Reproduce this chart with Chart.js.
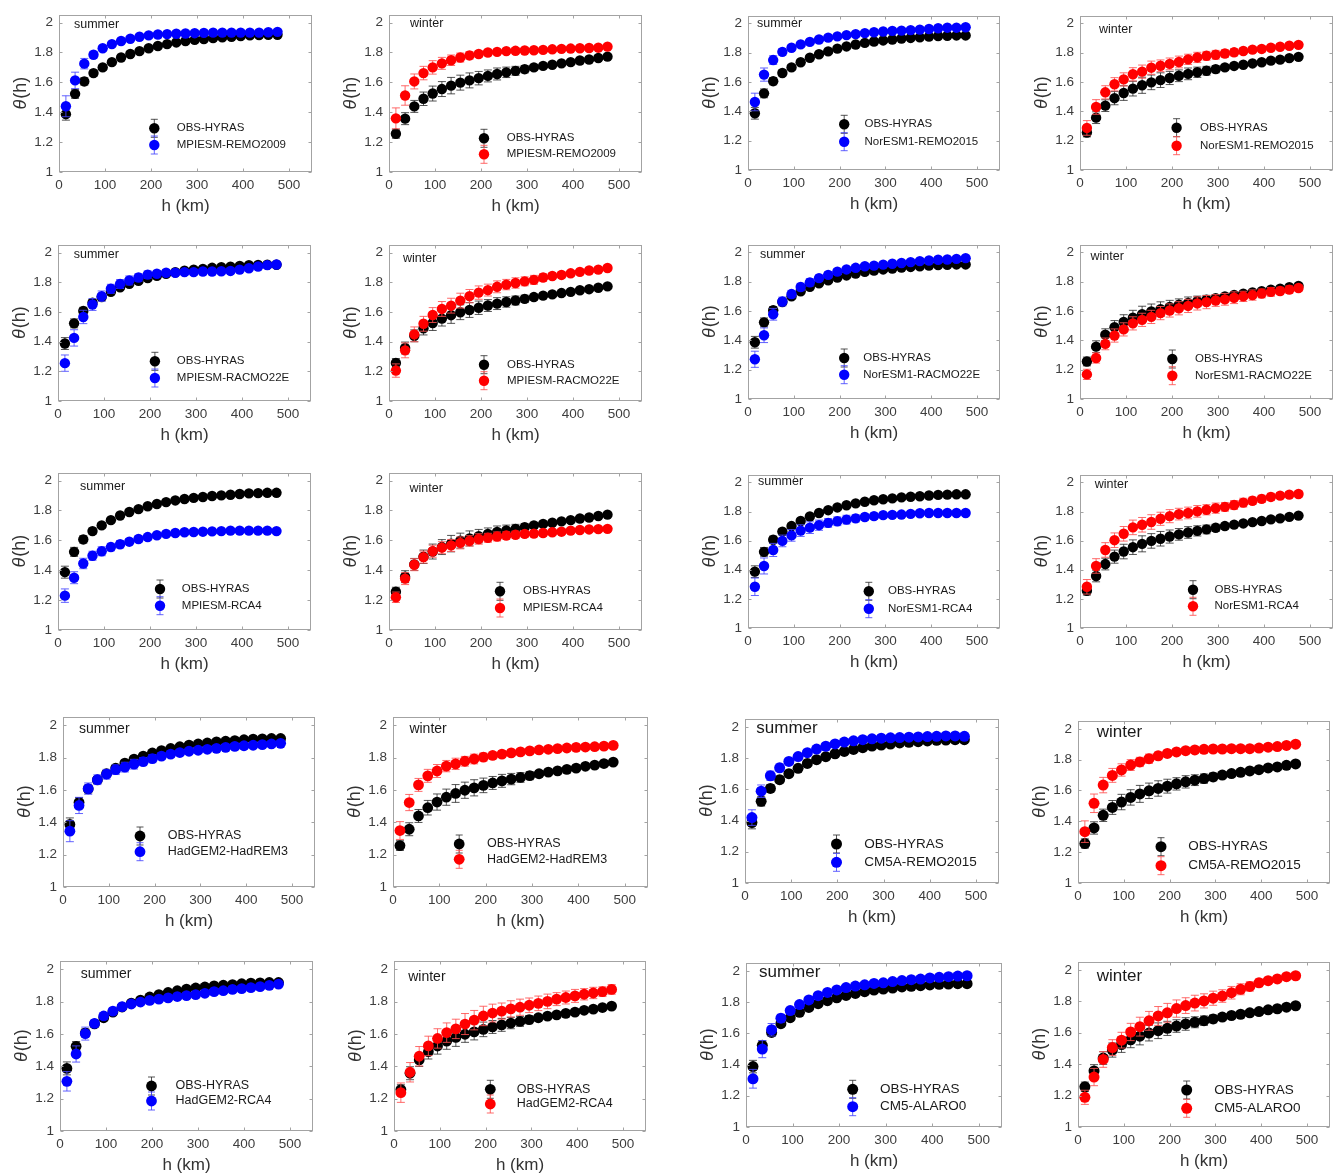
<!DOCTYPE html>
<html>
<head>
<meta charset="utf-8">
<script src="https://cdn.jsdelivr.net/npm/chart.js@4.4.1/dist/chart.umd.min.js"></script>
<style>
html, body { margin: 0; padding: 0; background: #fff; }
#fig { position: relative; width: 1335px; height: 1175px; overflow: hidden; }
#fig canvas { position: absolute; }
</style>
</head>
<body>
<div id="fig"></div>
<script>
// distance bins (km) and axis ticks
const hKm = [15, 35, 55, 75, 95, 115, 135, 155, 175, 195, 215, 235, 255, 275, 295, 315, 335, 355, 375, 395, 415, 435, 455, 475];
const xTicks = [0, 100, 200, 300, 400, 500];
const xTickLabels = ['0', '100', '200', '300', '400', '500'];
const yTicks = [1, 1.2, 1.4, 1.6, 1.8, 2];
const yTickLabels = ['1', '1.2', '1.4', '1.6', '1.8', '2'];

// observations (same in every panel of a season)
const obsSummer = [1.387,1.523,1.606,1.662,1.700,1.735,1.766,1.790,1.809,1.828,1.843,1.856,1.867,1.877,1.884,1.890,1.897,1.901,1.905,1.910,1.914,1.916,1.918,1.918];
const obsSummerErr = [0.04,0.03,0.025,0.02,0.018,0.016,0.015,0.014,0.013,0.012,0.012,0.011,0.011,0.011,0.01,0.01,0.01,0.01,0.01,0.01,0.01,0.01,0.01,0.01];
const obsWinter = [1.256,1.357,1.439,1.490,1.525,1.555,1.578,1.598,1.613,1.628,1.643,1.656,1.667,1.677,1.688,1.700,1.710,1.718,1.727,1.735,1.746,1.753,1.763,1.772];
const obsWinterErr = [0.03,0.04,0.04,0.045,0.05,0.05,0.055,0.05,0.05,0.045,0.04,0.04,0.035,0.03,0.025,0.02,0.016,0.015,0.013,0.012,0.012,0.011,0.011,0.011];

// models
const remo2009S = [1.440,1.613,1.725,1.785,1.828,1.856,1.877,1.892,1.905,1.914,1.920,1.923,1.925,1.927,1.929,1.931,1.933,1.933,1.933,1.933,1.933,1.933,1.935,1.938];
const remo2009SErr = [0.07,0.055,0.035,0.022,0.018,0.015,0.013,0.012,0.011,0.01,0.01,0.01,0.01,0.01,0.01,0.01,0.01,0.01,0.01,0.01,0.01,0.01,0.01,0.01];
const remo2009W = [1.359,1.512,1.606,1.662,1.700,1.727,1.748,1.766,1.780,1.790,1.800,1.804,1.809,1.811,1.813,1.815,1.817,1.821,1.824,1.826,1.828,1.830,1.832,1.839];
const remo2009WErr = [0.07,0.065,0.05,0.045,0.045,0.04,0.035,0.03,0.025,0.02,0.018,0.016,0.015,0.014,0.013,0.012,0.012,0.011,0.011,0.01,0.01,0.01,0.01,0.01];
const norRemoS = [1.464,1.651,1.750,1.806,1.834,1.857,1.874,1.890,1.903,1.912,1.920,1.927,1.934,1.940,1.945,1.949,1.951,1.954,1.958,1.962,1.967,1.971,1.971,1.974];
const norRemoSErr = [0.06,0.045,0.03,0.022,0.018,0.016,0.015,0.014,0.013,0.012,0.012,0.012,0.011,0.011,0.011,0.011,0.011,0.011,0.011,0.011,0.011,0.011,0.011,0.011];
const norRemoW = [1.287,1.430,1.530,1.585,1.618,1.653,1.671,1.698,1.711,1.724,1.737,1.755,1.768,1.779,1.786,1.795,1.803,1.812,1.821,1.826,1.834,1.841,1.848,1.854];
const norRemoWErr = [0.05,0.05,0.045,0.045,0.045,0.045,0.045,0.045,0.04,0.04,0.04,0.035,0.035,0.03,0.03,0.025,0.025,0.02,0.02,0.02,0.018,0.018,0.016,0.016];
const mpiRacmoS = [1.255,1.425,1.566,1.650,1.706,1.756,1.788,1.812,1.832,1.851,1.857,1.864,1.864,1.868,1.868,1.872,1.872,1.874,1.876,1.885,1.894,1.906,1.915,1.919];
const mpiRacmoSErr = [0.055,0.055,0.045,0.04,0.035,0.03,0.03,0.03,0.025,0.025,0.02,0.02,0.018,0.018,0.018,0.018,0.018,0.018,0.018,0.016,0.016,0.016,0.015,0.015];
const mpiRacmoW = [1.205,1.341,1.449,1.520,1.579,1.620,1.642,1.676,1.706,1.730,1.747,1.769,1.784,1.795,1.806,1.816,1.832,1.842,1.849,1.860,1.870,1.879,1.885,1.896];
const mpiRacmoWErr = [0.045,0.05,0.05,0.05,0.05,0.05,0.05,0.05,0.045,0.045,0.04,0.04,0.035,0.035,0.03,0.03,0.025,0.02,0.02,0.018,0.016,0.015,0.015,0.015];
const norRacmoS = [1.271,1.435,1.578,1.665,1.716,1.764,1.796,1.825,1.847,1.869,1.884,1.895,1.906,1.910,1.917,1.923,1.928,1.934,1.941,1.945,1.950,1.952,1.956,1.961];
const norRacmoSErr = [0.055,0.05,0.04,0.03,0.025,0.025,0.025,0.02,0.02,0.018,0.016,0.015,0.015,0.015,0.014,0.014,0.014,0.014,0.013,0.013,0.013,0.013,0.013,0.013];
const norRacmoW = [1.168,1.280,1.376,1.433,1.475,1.516,1.540,1.560,1.586,1.604,1.619,1.635,1.652,1.661,1.672,1.680,1.691,1.700,1.709,1.720,1.731,1.737,1.746,1.757];
const norRacmoWErr = [0.035,0.035,0.04,0.045,0.045,0.045,0.045,0.045,0.045,0.045,0.045,0.045,0.045,0.045,0.04,0.04,0.04,0.035,0.035,0.03,0.03,0.025,0.025,0.02];
const mpiRcaS = [1.230,1.350,1.445,1.497,1.527,1.555,1.574,1.591,1.609,1.622,1.634,1.643,1.649,1.654,1.656,1.658,1.660,1.662,1.665,1.665,1.665,1.665,1.665,1.662];
const mpiRcaSErr = [0.045,0.04,0.035,0.03,0.03,0.025,0.025,0.02,0.02,0.018,0.016,0.015,0.014,0.013,0.012,0.012,0.012,0.012,0.012,0.012,0.012,0.012,0.012,0.012];
const mpiRcaW = [1.219,1.344,1.437,1.488,1.527,1.551,1.566,1.583,1.596,1.609,1.617,1.626,1.632,1.637,1.643,1.645,1.649,1.654,1.658,1.665,1.669,1.673,1.675,1.677];
const mpiRcaWErr = [0.035,0.04,0.04,0.04,0.04,0.04,0.04,0.04,0.035,0.035,0.03,0.03,0.025,0.025,0.022,0.02,0.02,0.018,0.018,0.016,0.016,0.015,0.015,0.015];
const norRcaS = [1.283,1.426,1.536,1.598,1.636,1.669,1.689,1.706,1.722,1.733,1.744,1.753,1.762,1.768,1.775,1.777,1.779,1.784,1.788,1.790,1.790,1.790,1.790,1.790];
const norRcaSErr = [0.06,0.055,0.045,0.04,0.04,0.04,0.04,0.035,0.03,0.03,0.03,0.025,0.02,0.02,0.018,0.016,0.015,0.015,0.015,0.014,0.014,0.014,0.014,0.014];
const norRcaW = [1.283,1.426,1.536,1.603,1.647,1.691,1.709,1.728,1.750,1.768,1.782,1.790,1.801,1.812,1.823,1.832,1.845,1.861,1.874,1.887,1.900,1.909,1.916,1.920];
const norRcaWErr = [0.05,0.05,0.05,0.05,0.05,0.05,0.05,0.05,0.045,0.045,0.04,0.04,0.04,0.035,0.035,0.03,0.03,0.03,0.025,0.025,0.025,0.02,0.02,0.02];
const hadRemS = [1.345,1.504,1.608,1.663,1.697,1.725,1.741,1.759,1.775,1.793,1.809,1.821,1.831,1.839,1.845,1.851,1.857,1.863,1.869,1.873,1.876,1.880,1.884,1.888];
const hadRemSErr = [0.065,0.05,0.035,0.03,0.03,0.03,0.03,0.03,0.025,0.025,0.02,0.02,0.018,0.018,0.016,0.016,0.015,0.015,0.015,0.014,0.014,0.014,0.014,0.014];
const hadRemW = [1.349,1.522,1.631,1.687,1.717,1.747,1.761,1.777,1.791,1.803,1.813,1.821,1.829,1.835,1.841,1.847,1.851,1.855,1.859,1.863,1.865,1.867,1.871,1.875];
const hadRemWErr = [0.055,0.05,0.04,0.04,0.04,0.035,0.035,0.03,0.03,0.025,0.022,0.02,0.018,0.018,0.016,0.016,0.015,0.015,0.014,0.014,0.014,0.013,0.013,0.013];
const cm5aRemoS = [1.419,1.588,1.687,1.738,1.779,1.810,1.835,1.858,1.876,1.891,1.903,1.911,1.918,1.924,1.928,1.930,1.932,1.934,1.936,1.938,1.940,1.942,1.942,1.940];
const cm5aRemoSErr = [0.05,0.04,0.03,0.025,0.02,0.018,0.016,0.015,0.014,0.014,0.013,0.013,0.013,0.013,0.013,0.013,0.013,0.013,0.013,0.013,0.013,0.013,0.013,0.013];
const cm5aRemoW = [1.333,1.517,1.635,1.698,1.733,1.765,1.785,1.806,1.825,1.840,1.850,1.858,1.863,1.867,1.869,1.869,1.871,1.871,1.871,1.875,1.881,1.885,1.892,1.900];
const cm5aRemoWErr = [0.07,0.06,0.05,0.045,0.04,0.035,0.03,0.03,0.025,0.02,0.018,0.016,0.015,0.015,0.014,0.014,0.013,0.013,0.013,0.013,0.013,0.013,0.013,0.013];
const hadRcaS = [1.307,1.476,1.602,1.665,1.711,1.741,1.769,1.785,1.797,1.807,1.815,1.823,1.831,1.837,1.843,1.851,1.861,1.867,1.875,1.880,1.886,1.892,1.900,1.908];
const hadRcaSErr = [0.06,0.05,0.04,0.02,0.02,0.02,0.018,0.016,0.015,0.015,0.014,0.014,0.014,0.014,0.014,0.014,0.014,0.014,0.014,0.014,0.014,0.014,0.014,0.014];
const hadRcaW = [1.237,1.363,1.462,1.526,1.572,1.608,1.631,1.661,1.685,1.711,1.729,1.741,1.755,1.765,1.777,1.789,1.801,1.815,1.825,1.835,1.845,1.853,1.861,1.875];
const hadRcaWErr = [0.06,0.06,0.06,0.06,0.06,0.06,0.06,0.065,0.06,0.06,0.055,0.05,0.05,0.05,0.045,0.045,0.045,0.04,0.04,0.04,0.035,0.035,0.03,0.03];
const alaroS = [1.309,1.499,1.623,1.697,1.746,1.784,1.814,1.841,1.862,1.878,1.893,1.903,1.911,1.920,1.924,1.932,1.938,1.944,1.948,1.955,1.959,1.963,1.967,1.969];
const alaroSErr = [0.06,0.055,0.04,0.025,0.02,0.018,0.016,0.015,0.014,0.014,0.013,0.013,0.013,0.013,0.013,0.013,0.013,0.013,0.013,0.013,0.013,0.013,0.013,0.013];
const alaroW = [1.189,1.318,1.430,1.506,1.553,1.605,1.639,1.676,1.707,1.727,1.754,1.773,1.789,1.803,1.820,1.834,1.855,1.877,1.895,1.918,1.932,1.943,1.957,1.963];
const alaroWErr = [0.045,0.055,0.05,0.05,0.05,0.055,0.06,0.06,0.06,0.06,0.055,0.05,0.05,0.045,0.045,0.04,0.04,0.035,0.03,0.025,0.02,0.018,0.016,0.016];

const BLUE = '#0000ff', RED = '#ff0000';
const FONT = '"Liberation Sans", Arial, sans-serif';

// layout: where each panel's axes box sits on the page (x of 0 and 500 km, y of theta 2 and 1),
// legend marker x / row y's / text x and the season label position; g = text size group
const panels = [
  {name: 'MPIESM-REMO2009', season: 'summer', vals: remo2009S, errs: remo2009SErr, x0: 58.7, x500: 288.7, y2: 16.7, y1: 171.7, leg: [154.3, 128.3, 145, 176.7], lab: [74, 25], g: 0},
  {name: 'MPIESM-REMO2009', season: 'winter', vals: remo2009W, errs: remo2009WErr, x0: 388.7, x500: 618.7, y2: 17, y1: 172, leg: [484, 138.3, 154.3, 506.7], lab: [410, 24], g: 0},
  {name: 'NorESM1-REMO2015', season: 'summer', vals: norRemoS, errs: norRemoSErr, x0: 748.2, x500: 977.2, y2: 18, y1: 170, leg: [844.2, 124.3, 141.7, 864.5], lab: [757, 24], g: 0},
  {name: 'NorESM1-REMO2015', season: 'winter', vals: norRemoW, errs: norRemoWErr, x0: 1079.7, x500: 1310, y2: 18, y1: 170, leg: [1176.6, 127.7, 145.7, 1200], lab: [1099, 29.3], g: 0},

  {name: 'MPIESM-RACMO22E', season: 'summer', vals: mpiRacmoS, errs: mpiRacmoSErr, x0: 57.7, x500: 287.5, y2: 246.3, y1: 400.7, leg: [154.9, 361.3, 378, 176.8], lab: [73.7, 254.7], g: 0},
  {name: 'MPIESM-RACMO22E', season: 'winter', vals: mpiRacmoW, errs: mpiRacmoWErr, x0: 388.9, x500: 618.7, y2: 246.3, y1: 400.7, leg: [484, 364.7, 380.7, 507], lab: [403, 259], g: 0},
  {name: 'NorESM1-RACMO22E', season: 'summer', vals: norRacmoS, errs: norRacmoSErr, x0: 748.2, x500: 977, y2: 246.3, y1: 398.7, leg: [844.2, 358, 374.7, 863.2], lab: [759.9, 254.7], g: 0},
  {name: 'NorESM1-RACMO22E', season: 'winter', vals: norRacmoW, errs: norRacmoWErr, x0: 1079.7, x500: 1310, y2: 246.3, y1: 398.7, leg: [1172.3, 359, 375.7, 1195], lab: [1090.5, 256.3], g: 0},

  {name: 'MPIESM-RCA4', season: 'summer', vals: mpiRcaS, errs: mpiRcaSErr, x0: 57.7, x500: 287.5, y2: 474.7, y1: 629.7, leg: [160, 589, 605.7, 181.8], lab: [80, 487], g: 0},
  {name: 'MPIESM-RCA4', season: 'winter', vals: mpiRcaW, errs: mpiRcaWErr, x0: 388.9, x500: 618.7, y2: 474.7, y1: 629.7, leg: [500, 591.3, 608, 523], lab: [409.5, 489], g: 0},
  {name: 'NorESM1-RCA4', season: 'summer', vals: norRcaS, errs: norRcaSErr, x0: 748.2, x500: 977, y2: 476.3, y1: 627.3, leg: [868.8, 591.3, 608.7, 888], lab: [758, 482], g: 0},
  {name: 'NorESM1-RCA4', season: 'winter', vals: norRcaW, errs: norRcaWErr, x0: 1079.7, x500: 1310, y2: 476.3, y1: 627.3, leg: [1193, 589.7, 606.3, 1214.5], lab: [1094.8, 484.7], g: 0},

  {name: 'HadGEM2-HadREM3', season: 'summer', vals: hadRemS, errs: hadRemSErr, x0: 62.7, x500: 292, y2: 719.3, y1: 886.7, leg: [140, 836, 851.7, 167.7], lab: [79, 729.3], g: 1},
  {name: 'HadGEM2-HadREM3', season: 'winter', vals: hadRemW, errs: hadRemWErr, x0: 392.9, x500: 624.9, y2: 719.3, y1: 886.7, leg: [459.2, 844, 859.3, 487], lab: [409.4, 729.3], g: 1},
  {name: 'CM5A-REMO2015', season: 'summer', vals: cm5aRemoS, errs: cm5aRemoSErr, x0: 745.4, x500: 976, y2: 721, y1: 882.7, leg: [836.5, 844, 862.3, 864.2], lab: [756.3, 728.3], g: 2},
  {name: 'CM5A-REMO2015', season: 'winter', vals: cm5aRemoW, errs: cm5aRemoWErr, x0: 1077.7, x500: 1306.7, y2: 723.3, y1: 883.3, leg: [1161, 846.7, 865.7, 1188.3], lab: [1096.7, 732.7], g: 2},

  {name: 'HadGEM2-RCA4', season: 'summer', vals: hadRcaS, errs: hadRcaSErr, x0: 59.8, x500: 289.6, y2: 963.3, y1: 1130.7, leg: [151.5, 1086, 1101, 175.5], lab: [80.8, 974.3], g: 1},
  {name: 'HadGEM2-RCA4', season: 'winter', vals: hadRcaW, errs: hadRcaWErr, x0: 393.5, x500: 622.9, y2: 963.3, y1: 1130.7, leg: [490.3, 1089.3, 1104, 516.8], lab: [408.2, 976.7], g: 1},
  {name: 'CM5-ALARO0', season: 'summer', vals: alaroS, errs: alaroSErr, x0: 746, x500: 979, y2: 965, y1: 1126.7, leg: [852.7, 1089.3, 1106.7, 880], lab: [759, 972.3], g: 2},
  {name: 'CM5-ALARO0', season: 'winter', vals: alaroW, errs: alaroWErr, x0: 1077.7, x500: 1306.7, y2: 964, y1: 1126.7, leg: [1186.7, 1090, 1108.3, 1214.3], lab: [1096.7, 976.7], g: 2}
];

// text and marker sizes per group
const groupStyle = [
  {season: 12.5, legend: 11.5, radius: 5.2},
  {season: 14, legend: 12.5, radius: 5.4},
  {season: 17, legend: 13.5, radius: 5.5}
];

const L = 62, T = 8, R = 6, B = 50; // room around the axes box inside each canvas
const X_MAX = 550, Y_MIN = 1, Y_MAX = 2.05;

function errColor(c) {
  if (c === BLUE) return 'rgba(70,70,255,0.85)';
  if (c === RED) return 'rgba(255,80,80,0.85)';
  return 'rgba(40,40,40,0.8)';
}

function drawErrBar(ctx, x, yTop, yBot, cap) {
  ctx.beginPath();
  ctx.moveTo(x, yTop); ctx.lineTo(x, yBot);
  ctx.moveTo(x - cap, yTop); ctx.lineTo(x + cap, yTop);
  ctx.moveTo(x - cap, yBot); ctx.lineTo(x + cap, yBot);
  ctx.stroke();
}

const decoPlugin = {
  id: 'deco',
  beforeDatasetDraw(chart, args) {
    // error bars of a series go right under its own markers
    const ds = chart.data.datasets[args.index];
    const xs = chart.scales.x, ys = chart.scales.y, ctx = chart.ctx;
    ctx.save();
    ctx.strokeStyle = errColor(ds.backgroundColor);
    ctx.lineWidth = 1;
    ds.data.forEach((pt, k) => {
      const x = xs.getPixelForValue(pt.x);
      drawErrBar(ctx, x, ys.getPixelForValue(pt.y + ds.err[k]), ys.getPixelForValue(pt.y - ds.err[k]), 4);
    });
    ctx.restore();
  },
  afterDraw(chart, args, opts) {
    const p = opts.panel, st = groupStyle[p.g];
    const ctx = chart.ctx, a = chart.chartArea;
    const xs = chart.scales.x, ys = chart.scales.y;
    ctx.save();
    // box and inward ticks
    ctx.strokeStyle = '#a3a3a3';
    ctx.lineWidth = 1;
    const l = Math.round(a.left) + 0.5, r = Math.round(a.right) - 0.5;
    const t = Math.round(a.top) + 0.5, b = Math.round(a.bottom) - 0.5;
    ctx.strokeRect(l, t, r - l, b - t);
    ctx.beginPath();
    xTicks.forEach(v => {
      const x = Math.round(xs.getPixelForValue(v)) + 0.5;
      ctx.moveTo(x, b); ctx.lineTo(x, b - 3);
      ctx.moveTo(x, t); ctx.lineTo(x, t + 3);
    });
    yTicks.forEach(v => {
      const y = Math.round(ys.getPixelForValue(v)) + 0.5;
      ctx.moveTo(l, y); ctx.lineTo(l + 3, y);
      ctx.moveTo(r, y); ctx.lineTo(r - 3, y);
    });
    ctx.stroke();

    // axis titles
    ctx.fillStyle = '#333';
    ctx.textAlign = 'center';
    ctx.textBaseline = 'middle';
    ctx.font = '17px ' + FONT;
    ctx.fillText('h (km)', (a.left + a.right) / 2, a.bottom + 34);

    ctx.save();
    ctx.translate(a.left - 38, (a.top + a.bottom) / 2);
    ctx.rotate(-Math.PI / 2);
    ctx.font = 'italic 18px ' + FONT;
    const w1 = ctx.measureText('θ').width;
    ctx.font = '18px ' + FONT;
    const w2 = ctx.measureText('(h)').width;
    ctx.textAlign = 'left';
    ctx.font = 'italic 18px ' + FONT;
    ctx.fillText('θ', -(w1 + w2) / 2, 0);
    ctx.font = '18px ' + FONT;
    ctx.fillText('(h)', -(w1 + w2) / 2 + w1 + 1, 0);
    ctx.restore();

    // season label and legend, page coordinates shifted into this canvas
    const ox = opts.left, oy = opts.top;
    ctx.fillStyle = '#1a1a1a';
    ctx.textAlign = 'left';
    ctx.font = st.season + 'px ' + FONT;
    ctx.fillText(p.season, p.lab[0] - ox, p.lab[1] - oy);

    const [mx, my1, my2, tx] = p.leg;
    const entries = [
      {label: 'OBS-HYRAS', color: '#000', y: my1},
      {label: p.name, color: opts.color, y: my2}
    ];
    ctx.font = st.legend + 'px ' + FONT;
    entries.forEach(e => {
      ctx.strokeStyle = errColor(e.color);
      ctx.lineWidth = 1;
      drawErrBar(ctx, mx - ox, e.y - oy - 9, e.y - oy + 9, 3.5);
      ctx.fillStyle = e.color;
      ctx.beginPath();
      ctx.arc(mx - ox, e.y - oy, st.radius, 0, Math.PI * 2);
      ctx.fill();
      ctx.fillStyle = '#1a1a1a';
      ctx.fillText(e.label, tx - ox, e.y - oy);
    });
    ctx.restore();
  }
};

const fig = document.getElementById('fig');

panels.forEach(p => {
  const st = groupStyle[p.g];
  const color = p.season === 'summer' ? BLUE : RED;
  const obs = p.season === 'summer' ? obsSummer : obsWinter;
  const obsErr = p.season === 'summer' ? obsSummerErr : obsWinterErr;

  const boxW = Math.round((p.x500 - p.x0) * X_MAX / 500);
  const unit = p.y1 - p.y2;
  const boxH = Math.round(unit * (Y_MAX - Y_MIN));
  const boxTop = p.y2 - unit * (Y_MAX - 2);
  const left = Math.round(p.x0 - L);
  const top = Math.round(boxTop - T);

  const cv = document.createElement('canvas');
  cv.width = boxW + L + R;
  cv.height = boxH + T + B;
  cv.style.left = left + 'px';
  cv.style.top = top + 'px';
  fig.appendChild(cv);

  new Chart(cv, {
    type: 'scatter',
    data: {
      datasets: [
        {
          label: 'OBS-HYRAS',
          data: hKm.map((h, k) => ({x: h, y: obs[k]})),
          err: obsErr,
          backgroundColor: '#000',
          borderWidth: 0,
          pointRadius: st.radius,
          order: 1
        },
        {
          label: p.name,
          data: hKm.map((h, k) => ({x: h, y: p.vals[k]})),
          err: p.errs,
          backgroundColor: color,
          borderWidth: 0,
          pointRadius: st.radius,
          order: 0
        }
      ]
    },
    options: {
      responsive: false,
      animation: false,
      devicePixelRatio: 1,
      layout: {padding: {top: T, right: R, left: 0, bottom: 0}, autoPadding: false},
      plugins: {
        legend: {display: false},
        tooltip: {enabled: false},
        deco: {panel: p, left: left, top: top, color: color}
      },
      scales: {
        x: {
          type: 'linear',
          min: 0,
          max: X_MAX,
          grid: {display: false, drawTicks: false},
          border: {display: false},
          afterBuildTicks: s => { s.ticks = xTicks.map(v => ({value: v})); },
          afterFit: s => { s.height = B; },
          ticks: {
            padding: 5,
            color: '#3d3d3d',
            font: {family: FONT, size: 13.5},
            maxRotation: 0,
            autoSkip: false,
            callback: (v, i) => xTickLabels[i]
          }
        },
        y: {
          type: 'linear',
          min: Y_MIN,
          max: Y_MAX,
          grid: {display: false, drawTicks: false},
          border: {display: false},
          afterBuildTicks: s => { s.ticks = yTicks.map(v => ({value: v})); },
          afterFit: s => { s.width = L; },
          ticks: {
            padding: 6,
            color: '#3d3d3d',
            font: {family: FONT, size: 13.5},
            autoSkip: false,
            callback: (v, i) => yTickLabels[i]
          }
        }
      }
    },
    plugins: [decoPlugin]
  });
});
</script>
</body>
</html>
